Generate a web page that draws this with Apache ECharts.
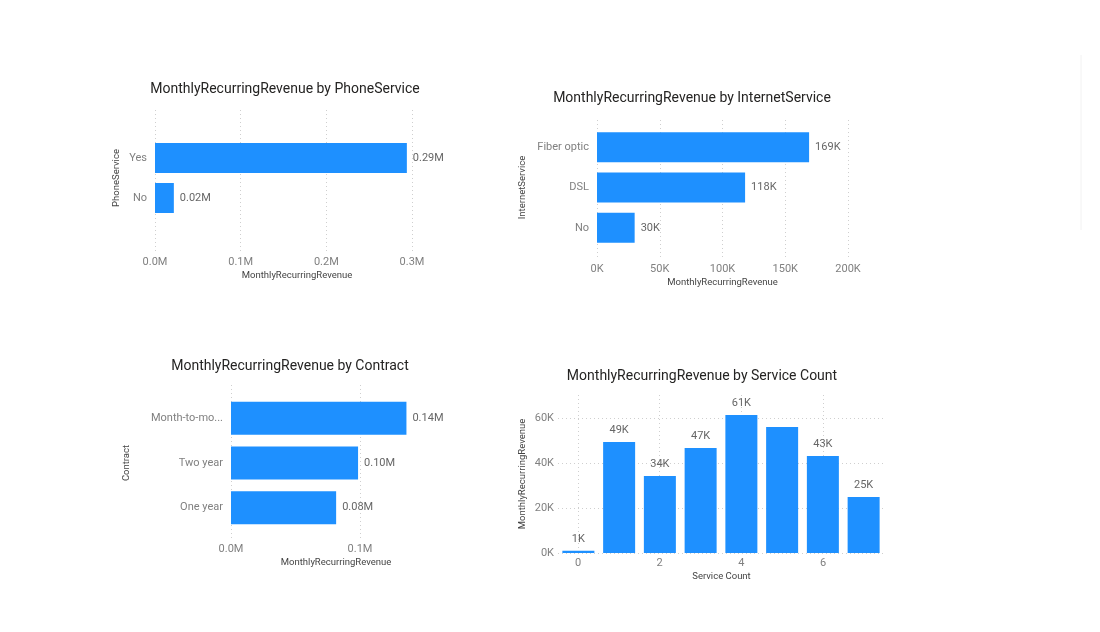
<!DOCTYPE html>
<html>
<head>
<meta charset="utf-8">
<script src="https://cdn.jsdelivr.net/npm/echarts@6/dist/echarts.min.js"></script>
<style>
  html, body { margin: 0; padding: 0; background: #fff; }
  #main { width: 1100px; height: 632px; }
</style>
</head>
<body>
<div id="main"></div>
<script type="text/javascript">
    // values
    var phoneCats = ['Yes', 'No'];
    var phoneValues = [294000, 22000];

    var internetCats = ['Fiber optic', 'DSL', 'No'];
    var internetValues = [169000, 118000, 30000];

    var contractCats = ['Month-to-month', 'Two year', 'One year'];
    var contractValues = [136000, 98500, 81500];

    var serviceCounts = ['0', '1', '2', '3', '4', '5', '6', '7'];
    var serviceValues = [1000, 49300, 34200, 46700, 61300, 56000, 43100, 24900];
    var serviceHiddenLabel = [5];

    var FONT = 'Roboto';
    var BLUE = '#1E90FF';
    var grid_line = { show: true, lineStyle: { color: '#cfcfcf', type: [1, 3], width: 1 } };

    function fmtM1(v) { return (v / 1e6).toFixed(1) + 'M'; }
    function fmtM2(v) { return (v / 1e6).toFixed(2) + 'M'; }
    function fmtK(v) { return Math.round(v / 1000) + 'K'; }

    function title(text, x, y) {
        return {
            type: 'text', x: x, y: y,
            style: { text: text, align: 'center', verticalAlign: 'middle',
                     fill: '#252423', font: '14px ' + FONT }
        };
    }

    // value axis that only draws the gridlines + tick labels
    function gridAxis(idx, max, interval, fmt, name, nameShift) {
        return {
            type: 'value', gridIndex: idx, min: 0, max: max, interval: interval,
            axisLine: { show: false }, axisTick: { show: false },
            axisLabel: { formatter: fmt, color: '#808080', fontFamily: FONT, fontSize: 11, margin: 4 },
            splitLine: grid_line,
            name: name, nameLocation: 'middle', nameGap: 18,
            nameTextStyle: { color: '#444', fontFamily: FONT, fontSize: 9.5,
                             padding: [0, 0, 0, nameShift || 0] }
        };
    }
    function hiddenValue(idx, max) {
        return { type: 'value', gridIndex: idx, min: 0, max: max, show: false };
    }
    function catAxis(idx, data, name, gap, extra) {
        var a = {
            type: 'category', gridIndex: idx, data: data, inverse: true,
            axisLine: { show: false }, axisTick: { show: false },
            axisLabel: { color: '#808080', fontFamily: FONT, fontSize: 11, margin: 8 },
            name: name, nameLocation: 'middle', nameGap: gap, nameRotate: 90,
            nameTextStyle: { color: '#444', fontFamily: FONT, fontSize: 9.5 }
        };
        if (extra) { for (var k in extra) a.axisLabel[k] = extra[k]; }
        return a;
    }
    function emptyCat(idx) {
        return { type: 'category', gridIndex: idx, data: [], show: false };
    }
    function hbar(xi, yi, values, width, fmt) {
        return {
            type: 'bar', xAxisIndex: xi, yAxisIndex: yi, data: values, barWidth: width,
            itemStyle: { color: BLUE }, silent: true, clip: false,
            label: { show: true, position: 'right', distance: 6, formatter: function (p) { return fmt(p.value); },
                     color: '#666', fontFamily: FONT, fontSize: 11 }
        };
    }

    var serviceData = serviceValues.map(function (v, i) {
        var item = { value: v };
        if (serviceHiddenLabel.indexOf(i) !== -1) item.label = { show: false };
        return item;
    });

    var chart = echarts.init(document.getElementById('main'));
    var option = {
        animation: false,
        backgroundColor: '#fff',
        textStyle: { fontFamily: FONT },
        graphic: [
            title('MonthlyRecurringRevenue by PhoneService', 285, 89),
            title('MonthlyRecurringRevenue by InternetService', 692, 98),
            title('MonthlyRecurringRevenue by Contract', 290, 366),
            title('MonthlyRecurringRevenue by Service Count', 702, 376),
            { type: 'line', shape: { x1: 1081, y1: 55, x2: 1081, y2: 230 },
              style: { stroke: '#f2f2f2', lineWidth: 1 } }
        ],
        grid: [
            // phone service
            { left: 155, right: 688, top: 110, bottom: 379 },
            { left: 155, right: 688, top: 138, bottom: 414 },
            // internet service
            { left: 597, right: 252, top: 120, bottom: 372 },
            { left: 597, right: 252, top: 127, bottom: 384 },
            // contract
            { left: 231, right: 740, top: 385, bottom: 92 },
            { left: 231, right: 611, top: 396, bottom: 102 },
            // service count: grid 6 spans bar centres 0..6 for the vertical gridlines
            { left: 578, right: 277, top: 395, bottom: 79 },
            { left: 558, right: 216, top: 418, bottom: 79 }
        ],
        xAxis: [
            gridAxis(0, 300000, 100000, fmtM1, 'MonthlyRecurringRevenue', 27),
            hiddenValue(1, 300000),
            gridAxis(2, 200000, 50000, fmtK, 'MonthlyRecurringRevenue', 0),
            hiddenValue(3, 200000),
            gridAxis(4, 100000, 100000, fmtM1, 'MonthlyRecurringRevenue', 81),
            hiddenValue(5, 200000),
            {
                type: 'value', gridIndex: 6, min: 0, max: 6, interval: 2,
                axisLine: { show: false }, axisTick: { show: false },
                axisLabel: { color: '#808080', fontFamily: FONT, fontSize: 11, margin: 5 },
                splitLine: grid_line,
                name: 'Service Count', nameLocation: 'middle', nameGap: 19,
                nameTextStyle: { color: '#444', fontFamily: FONT, fontSize: 9.5, padding: [0, 0, 0, 42] }
            },
            { type: 'category', gridIndex: 7, data: serviceCounts, show: false }
        ],
        yAxis: [
            emptyCat(0),
            catAxis(1, phoneCats, 'PhoneService', 33),
            emptyCat(2),
            catAxis(3, internetCats, 'InternetService', 69),
            emptyCat(4),
            catAxis(5, contractCats, 'Contract', 99, { width: 75, overflow: 'truncate', ellipsis: '...' }),
            {
                type: 'value', gridIndex: 6, min: 0, max: 1,
                axisLine: { show: false }, axisTick: { show: false },
                axisLabel: { show: false }, splitLine: { show: false },
                name: 'MonthlyRecurringRevenue', nameLocation: 'middle', nameGap: 50,
                nameTextStyle: { color: '#444', fontFamily: FONT, fontSize: 9.5 }
            },
            {
                type: 'value', gridIndex: 7, min: 0, max: 60000, interval: 20000,
                axisLine: { show: false }, axisTick: { show: false },
                axisLabel: { formatter: fmtK, color: '#808080', fontFamily: FONT, fontSize: 11, margin: 4 },
                splitLine: grid_line
            }
        ],
        series: [
            hbar(1, 1, phoneValues, 30, fmtM2),
            hbar(3, 3, internetValues, 30, fmtK),
            hbar(5, 5, contractValues, 33, fmtM2),
            {
                type: 'bar', xAxisIndex: 7, yAxisIndex: 7, data: serviceData, barWidth: 32,
                itemStyle: { color: BLUE }, silent: true, clip: false,
                label: { show: true, position: 'top', distance: 6, formatter: function (p) { return fmtK(p.value); },
                         color: '#666', fontFamily: FONT, fontSize: 11 }
            }
        ]
    };
    chart.setOption(option);
</script>
</body>
</html>
